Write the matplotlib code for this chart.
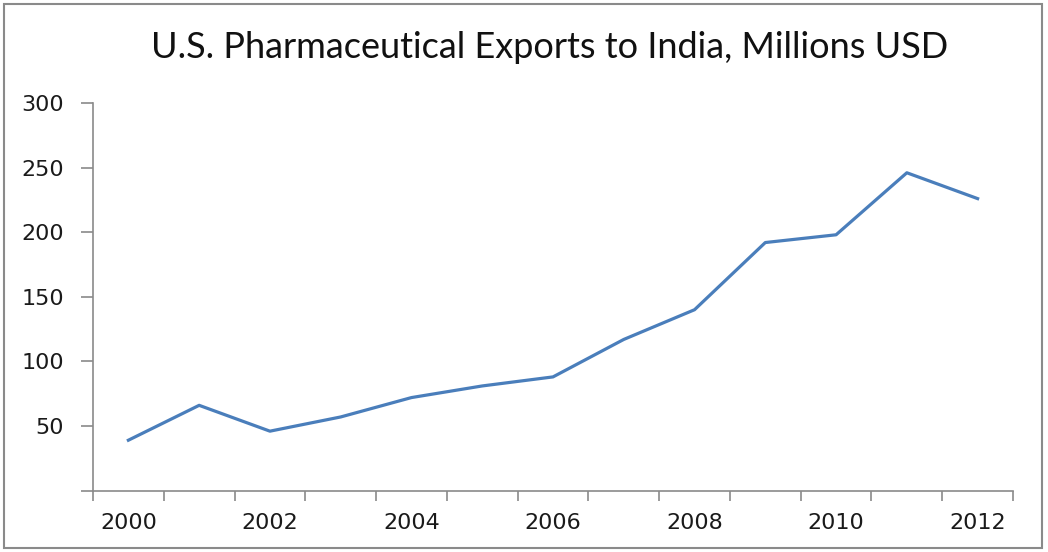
import matplotlib.pyplot as plt
from matplotlib.patches import Rectangle

years = [2000, 2001, 2002, 2003, 2004, 2005, 2006, 2007, 2008, 2009, 2010, 2011, 2012]
exports = [39, 66, 46, 57, 72, 81, 88, 117, 140, 192, 198, 246, 226]
y_ticks = [0, 50, 100, 150, 200, 250, 300]

W, H = 1048, 552
fig = plt.figure(figsize=(W / 100, H / 100), dpi=100)
fig.patch.set_facecolor('white')

# chart frame
fig.add_artist(Rectangle((4 / W, 4 / H), 1038 / W, 544 / H, transform=fig.transFigure,
                         fill=False, edgecolor='#8a8a8a', lw=1.5))

ax = fig.add_axes([93 / W, (H - 490.6) / H, 920 / W, (490.6 - 103) / H])
pos = list(range(len(years)))
ax.plot(pos, exports, color='#4a7ebb', lw=2.3, solid_joinstyle='round')

ax.set_xlim(-0.5, len(years) - 0.5)
ax.set_ylim(0, 300)

# category axis: marks between categories, labels every other year
ax.set_xticks([p - 0.5 for p in range(len(years) + 1)], labels=[])
ax.set_xticks(pos[::2], labels=[str(y) for y in years[::2]], minor=True)
ax.tick_params(axis='x', which='major', length=7, width=1.2, color='#8a8a8a', direction='out')
ax.tick_params(axis='x', which='minor', length=0, pad=16, labelsize=16, labelcolor='#1a1a1a')

ax.set_yticks(y_ticks, labels=['' if v == 0 else str(v) for v in y_ticks])
ax.tick_params(axis='y', length=9, width=1.2, color='#8a8a8a', direction='out',
               pad=12, labelsize=16, labelcolor='#1a1a1a')

for s in ['top', 'right']:
    ax.spines[s].set_visible(False)
for s in ['left', 'bottom']:
    ax.spines[s].set_color('#8a8a8a')
    ax.spines[s].set_linewidth(1.2)

fig.text(550 / W, 1 - 48 / H, 'U.S. Pharmaceutical Exports to India, Millions USD',
         ha='center', va='center', fontsize=26, family='Lato', color='#111111')

fig.savefig('out.png', dpi=100, facecolor='white')
